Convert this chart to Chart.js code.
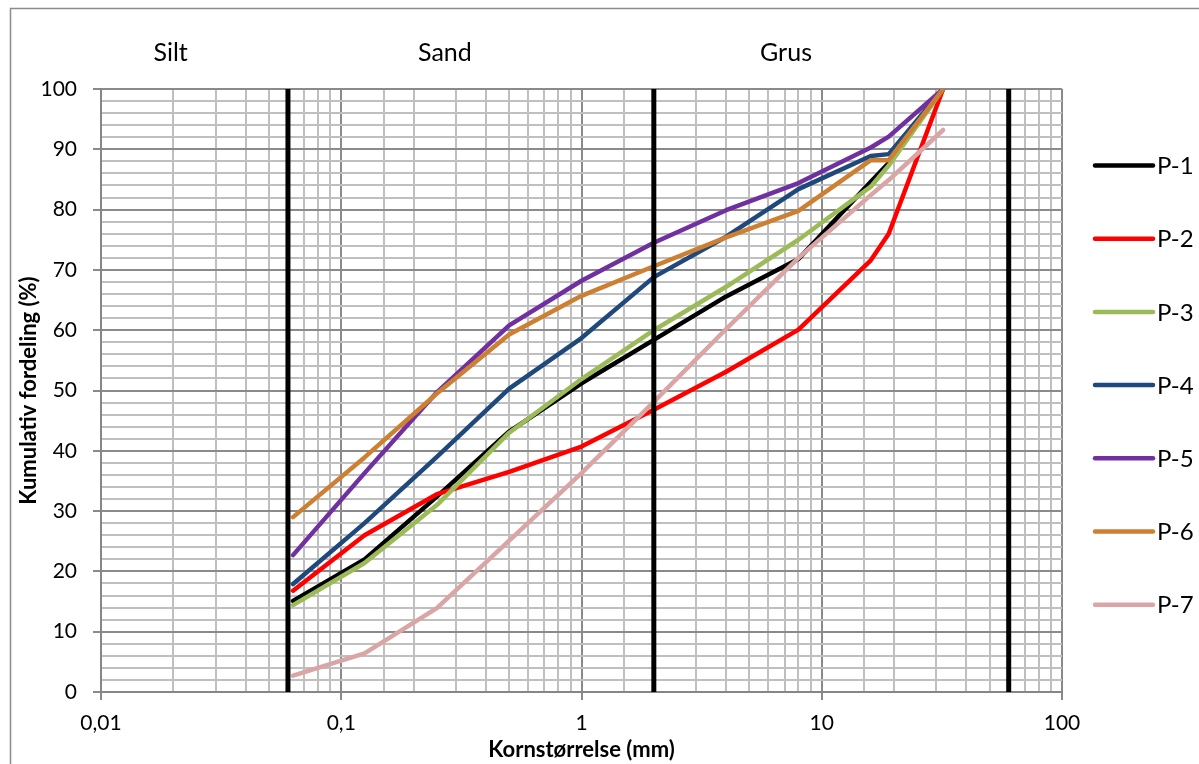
<!DOCTYPE html>
<html>
<head>
<meta charset="utf-8">
<script src="https://cdn.jsdelivr.net/npm/chart.js@4.4.1/dist/chart.umd.min.js"></script>
<style>
  body { margin: 0; background: #fff; }
  canvas { display: block; }
</style>
</head>
<body>
<canvas id="myChart" width="1199" height="764"></canvas>
<script>
'use strict';

// Sieve sizes (mm) and cumulative passing (%) per sample
var sizes = [0.063, 0.125, 0.25, 0.5, 1, 2, 4, 8, 16, 19, 32];
var p1 = [15.1, 22.0, 32.4, 43.2, 51.2, 58.4, 65.6, 71.8, 84.6, 87.7, 100];
var p2 = [16.8, 26.0, 32.8, 36.5, 40.7, 46.8, 53.1, 60.1, 71.6, 76.0, 100];
var p3 = [14.4, 21.4, 31.0, 43.0, 51.9, 60.0, 67.2, 75.0, 83.8, 87.3, 100];
var p4 = [17.9, 28.0, 39.0, 50.3, 58.7, 68.8, 75.5, 83.4, 88.9, 89.2, 100];
var p5 = [22.7, 36.3, 49.7, 60.8, 68.2, 74.5, 79.9, 84.4, 90.3, 92.1, 100];
var p6 = [29.0, 38.9, 49.5, 59.3, 65.7, 70.6, 75.4, 79.8, 88.2, 88.2, 100];
var p7 = [2.7, 6.4, 13.9, 25.1, 36.3, 48.1, 60.2, 72.0, 82.4, 84.9, 93.2];

var seriesNames = ['P-1', 'P-2', 'P-3', 'P-4', 'P-5', 'P-6', 'P-7'];
var seriesValues = [p1, p2, p3, p4, p5, p6, p7];
var seriesColors = ['#000000', '#ff0000', '#9bbb59', '#1f497d', '#7030a0', '#cd7f32', '#d9a5a5'];

// Silt / Sand / Grus boundaries (mm)
var boundaries = [0.06, 2, 60];
var zoneNames = ['Silt', 'Sand', 'Grus'];
var zoneLabelAt = [0.0195, 0.27, 7.1];

var FONT = 'Lato, "Open Sans", sans-serif';

function isDecade(v) {
  var l = Math.log10(v);
  return Math.abs(l - Math.round(l)) < 1e-9;
}

var datasets = [];
for (var i = 0; i < seriesNames.length; i++) {
  datasets.push({
    label: seriesNames[i],
    data: sizes.map(function (s, j) { return { x: s, y: seriesValues[i][j] }; }),
    borderColor: seriesColors[i],
    backgroundColor: seriesColors[i],
    borderWidth: 4.5,
    pointRadius: 0,
    tension: 0,
    borderCapStyle: 'round',
    borderJoinStyle: 'round',
    order: 10 - i
  });
}
boundaries.forEach(function (b) {
  datasets.push({
    label: 'grense',
    data: [{ x: b, y: 0 }, { x: b, y: 100 }],
    borderColor: '#000000',
    borderWidth: 5,
    pointRadius: 0,
    borderCapStyle: 'round',
    order: 0
  });
});

// Draws frame, zone labels and the legend
var extras = {
  id: 'extras',
  afterDraw: function (chart) {
    var ctx = chart.ctx;
    var xs = chart.scales.x;
    ctx.save();
    ctx.strokeStyle = '#8c8c8c';
    ctx.lineWidth = 1.5;
    ctx.strokeRect(10.5, 8.5, 1400, 1000);

    ctx.fillStyle = '#000';
    ctx.font = '25px ' + FONT;
    ctx.textAlign = 'center';
    ctx.textBaseline = 'middle';
    zoneNames.forEach(function (n, k) {
      ctx.fillText(n, xs.getPixelForValue(zoneLabelAt[k]), 53);
    });

    ctx.font = '24px ' + FONT;
    ctx.textAlign = 'left';
    for (var k = 0; k < seriesNames.length; k++) {
      var y = 165.5 + k * 73.2;
      ctx.strokeStyle = seriesColors[k];
      ctx.lineWidth = 4.5;
      ctx.lineCap = 'round';
      ctx.beginPath();
      ctx.moveTo(1095, y);
      ctx.lineTo(1153, y);
      ctx.stroke();
      ctx.fillText(seriesNames[k], 1157, y + 1);
    }
    ctx.restore();
  }
};

var ctx = document.getElementById('myChart').getContext('2d');
var chart = new Chart(ctx, {
  type: 'line',
  data: { datasets: datasets },
  plugins: [extras],
  options: {
    responsive: false,
    animation: false,
    layout: { padding: { left: 10, top: 89, right: 137, bottom: 0 } },
    plugins: {
      legend: { display: false },
      tooltip: { enabled: false }
    },
    scales: {
      x: {
        type: 'logarithmic',
        min: 0.01,
        max: 100,
        afterFit: function (s) { s.height = 72; },
        border: { color: '#868686', width: 2 },
        grid: {
          lineWidth: 2,
          tickLength: 8,
          color: function (c) { return isDecade(c.tick.value) ? '#8a8a8a' : '#bfbfbf'; },
          tickColor: function (c) { return isDecade(c.tick.value) ? '#8a8a8a' : 'rgba(0,0,0,0)'; }
        },
        ticks: {
          autoSkip: false,
          maxRotation: 0,
          padding: 11,
          color: '#000',
          font: { family: FONT, size: 21 },
          callback: function (v) { return isDecade(v) ? String(v).replace('.', ',') : ''; }
        },
        title: {
          display: true,
          text: 'Kornstørrelse (mm)',
          color: '#000',
          font: { family: FONT, size: 22, weight: 'bold' },
          padding: { top: 0, bottom: 1 }
        }
      },
      y: {
        min: 0,
        max: 100,
        afterFit: function (s) { s.width = 91; },
        border: { color: '#868686', width: 2 },
        grid: {
          lineWidth: 2,
          tickLength: 8,
          color: function (c) { return c.tick.value % 10 === 0 ? '#8a8a8a' : '#bfbfbf'; },
          tickColor: function (c) { return c.tick.value % 10 === 0 ? '#8a8a8a' : 'rgba(0,0,0,0)'; }
        },
        ticks: {
          stepSize: 2,
          autoSkip: false,
          padding: 16,
          color: '#000',
          font: { family: FONT, size: 21 },
          callback: function (v) { return v % 10 === 0 ? String(v) : ''; }
        },
        title: {
          display: true,
          text: 'Kumulativ fordeling (%)',
          color: '#000',
          font: { family: FONT, size: 22, weight: 'bold' },
          padding: { top: 6, bottom: 0 }
        }
      }
    }
  }
});
</script>
</body>
</html>
